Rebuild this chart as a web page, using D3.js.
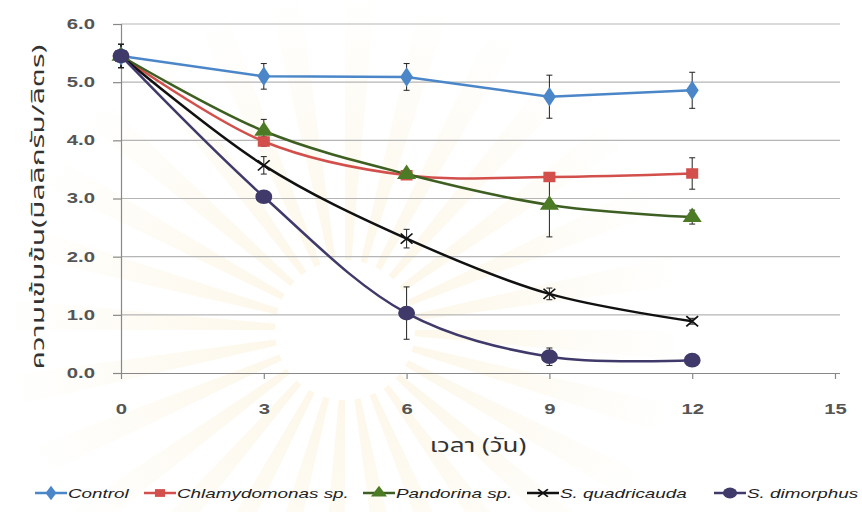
<!DOCTYPE html>
<html>
<head>
<meta charset="utf-8">
<script src="https://cdn.jsdelivr.net/npm/d3@7"></script>
<style>
  body { margin: 0; background: #fff; }
  svg { display: block; }
</style>
</head>
<body>
<svg id="chart"></svg>
<script>
// days on the x axis
const days = [0, 3, 6, 9, 12];
const xTicks = [0, 3, 6, 9, 12, 15];
const yTicks = [0, 1, 2, 3, 4, 5, 6];

// concentration (mg/L) per series, with error bars
const control = [5.45, 5.10, 5.09, 4.75, 4.86];
const controlErr = [0.2, 0.22, 0.23, 0.37, 0.31];
const chlamydomonas = [5.45, 3.98, 3.40, 3.37, 3.43];
const chlamydomonasErr = [0.2, 0.08, 0.05, 0.05, 0.27];
const pandorina = [5.45, 4.16, 3.42, 2.89, 2.68];
const pandorinaErr = [0.2, 0.2, 0.05, 0.55, 0.12];
const quadricauda = [5.45, 3.57, 2.31, 1.36, 0.89];
const quadricaudaErr = [0.2, 0.15, 0.16, 0.1, 0.05];
const dimorphus = [5.45, 3.03, 1.03, 0.28, 0.22];
const dimorphusErr = [0.2, 0.05, 0.45, 0.15, 0.05];

const seriesNames = ['Control', 'Chlamydomonas sp.', 'Pandorina sp.', 'S. quadricauda', 'S. dimorphus'];

const series = [
    { name: seriesNames[0], values: control, err: controlErr, color: '#4a86c8', symbol: d3.symbolDiamond, size: 110, curve: d3.curveLinear },
    { name: seriesNames[1], values: chlamydomonas, err: chlamydomonasErr, color: '#d24f4b', symbol: d3.symbolSquare, size: 110 },
    { name: seriesNames[2], values: pandorina, err: pandorinaErr, color: '#4c7a25', line: '#3e5f22', symbol: d3.symbolTriangle, size: 120 },
    { name: seriesNames[3], values: quadricauda, err: quadricaudaErr, color: '#111', symbol: d3.symbolX, size: 70 },
    { name: seriesNames[4], values: dimorphus, err: dimorphusErr, color: '#3f3a6a', symbol: d3.symbolCircle, size: 170 }
];

const W = 862, H = 512;
const margin = { top: 24, right: 27, bottom: 139, left: 121 };
const width = W - margin.left - margin.right;
const height = H - margin.top - margin.bottom;
// the original picture is stretched sideways
const stretchX = 1.45;

const svg = d3.select('#chart').attr('width', W).attr('height', H);

function stretch(sel, k) {
    sel.each(function () {
        const len = this.getComputedTextLength();
        d3.select(this).attr('textLength', len * k).attr('lengthAdjust', 'spacingAndGlyphs');
    });
}

// very faint watermark rays behind the chart
const defs = svg.append('defs');
const grad = defs.append('radialGradient').attr('id', 'rayFade')
    .attr('gradientUnits', 'userSpaceOnUse').attr('cx', 0).attr('cy', 0).attr('r', 340);
grad.append('stop').attr('offset', '0.2').attr('stop-color', '#f0cf78').attr('stop-opacity', 0.16);
grad.append('stop').attr('offset', '1').attr('stop-color', '#f0cf78').attr('stop-opacity', 0);
const rays = svg.append('g').attr('transform', 'translate(345,330)');
d3.range(28).forEach(i => {
    const a0 = (i / 28) * 2 * Math.PI;
    rays.append('path')
        .attr('d', d3.arc().innerRadius(70).outerRadius(340).startAngle(a0).endAngle(a0 + 0.09)())
        .attr('fill', 'url(#rayFade)');
});

const g = svg.append('g').attr('transform', `translate(${margin.left},${margin.top})`);

const x = d3.scaleLinear().domain([0, 15]).range([0, width]);
const y = d3.scaleLinear().domain([0, 6]).range([height, 0]);

// gridlines
g.append('g')
    .selectAll('line')
    .data(yTicks.filter(d => d > 0))
    .enter().append('line')
    .attr('x1', 0).attr('x2', width + 5)
    .attr('y1', d => y(d)).attr('y2', d => y(d))
    .attr('stroke', '#b5b5b5').attr('stroke-width', 1.2);

// y axis
const yAxis = g.append('g')
    .call(d3.axisLeft(y).tickValues(yTicks).tickFormat(d3.format('.1f')).tickSize(8).tickPadding(18));
yAxis.select('.domain').attr('stroke', '#888').attr('stroke-width', 1.2);
yAxis.selectAll('.tick line').attr('stroke', '#888').attr('stroke-width', 1.2);
yAxis.selectAll('text')
    .attr('fill', '#555').attr('font-size', 14).attr('font-weight', 'bold')
    .attr('font-family', 'Liberation Sans, Arial, sans-serif')
    .call(stretch, stretchX);

// x axis
const xAxis = g.append('g')
    .attr('transform', `translate(0,${height})`)
    .call(d3.axisBottom(x).tickValues(xTicks).tickSize(6).tickPadding(25).tickSizeOuter(0));
xAxis.select('.domain').attr('stroke', '#888').attr('stroke-width', 1.2).attr('d', `M0,0.5H${width + 5}`);
xAxis.selectAll('.tick line').attr('stroke', '#888').attr('stroke-width', 1.2);
xAxis.selectAll('text')
    .attr('fill', '#555').attr('font-size', 14).attr('font-weight', 'bold')
    .attr('font-family', 'Liberation Sans, Arial, sans-serif')
    .call(stretch, stretchX);

// axis titles
svg.append('text')
    .attr('x', 478).attr('y', 452)
    .attr('text-anchor', 'middle')
    .attr('font-size', 20).attr('fill', '#333')
    .attr('font-family', '"Noto Sans Thai", "Noto Sans", "DejaVu Sans", sans-serif')
    .text('เวลา (วัน)')
    .call(stretch, 1.3);

svg.append('text')
    .attr('transform', `translate(44,207) rotate(-90)`)
    .attr('text-anchor', 'middle')
    .attr('font-size', 17).attr('fill', '#333')
    .attr('font-family', '"Noto Sans Thai", "Noto Sans", "DejaVu Sans", sans-serif')
    .text('ความเข้มข้น(มิลลิกรัม/ลิตร)')
    .attr('textLength', 325).attr('lengthAdjust', 'spacingAndGlyphs');

// lines
series.forEach(s => {
    const line = d3.line()
        .x((d, i) => x(days[i]))
        .y(d => y(d))
        .curve(s.curve || d3.curveCatmullRom.alpha(0.5));
    g.append('path')
        .datum(s.values)
        .attr('fill', 'none')
        .attr('stroke', s.line || s.color)
        .attr('stroke-width', 2.5)
        .attr('d', line);
});

// error bars
series.forEach(s => {
    const eb = g.append('g').attr('stroke', '#222').attr('stroke-width', 1);
    s.values.forEach((v, i) => {
        const cx = x(days[i]);
        eb.append('line').attr('x1', cx).attr('x2', cx).attr('y1', y(v - s.err[i])).attr('y2', y(v + s.err[i]));
        eb.append('line').attr('x1', cx - 3).attr('x2', cx + 3).attr('y1', y(v - s.err[i])).attr('y2', y(v - s.err[i]));
        eb.append('line').attr('x1', cx - 3).attr('x2', cx + 3).attr('y1', y(v + s.err[i])).attr('y2', y(v + s.err[i]));
    });
});

// markers
series.forEach(s => {
    g.append('g')
        .selectAll('path')
        .data(s.values)
        .enter().append('path')
        .attr('transform', (d, i) => `translate(${x(days[i])},${y(d)}) scale(1.15,1)`)
        .attr('d', d3.symbol().type(s.symbol).size(s.size))
        .attr('fill', s.symbol === d3.symbolX ? 'none' : s.color)
        .attr('stroke', s.symbol === d3.symbolX ? s.color : 'none')
        .attr('stroke-width', 1.5);
});

// legend
const legendX = [35, 144, 363, 527, 714];
const legend = svg.append('g').attr('transform', 'translate(0,493)');
series.forEach((s, i) => {
    const lg = legend.append('g').attr('transform', `translate(${legendX[i]},0)`);
    lg.append('line').attr('x1', 0).attr('x2', 32).attr('y1', 0).attr('y2', 0)
        .attr('stroke', s.line || s.color).attr('stroke-width', 2.5);
    lg.append('path')
        .attr('transform', 'translate(16,0) scale(1.3,1)')
        .attr('d', d3.symbol().type(s.symbol).size(s.size * 0.55))
        .attr('fill', s.symbol === d3.symbolX ? 'none' : s.color)
        .attr('stroke', s.symbol === d3.symbolX ? s.color : 'none')
        .attr('stroke-width', 1.5);
    lg.append('text')
        .attr('x', 33).attr('y', 5)
        .attr('font-size', 13).attr('font-style', 'italic').attr('fill', '#222')
        .attr('font-family', 'Liberation Sans, Arial, sans-serif')
        .text(s.name)
        .call(stretch, stretchX);
});
</script>
</body>
</html>
